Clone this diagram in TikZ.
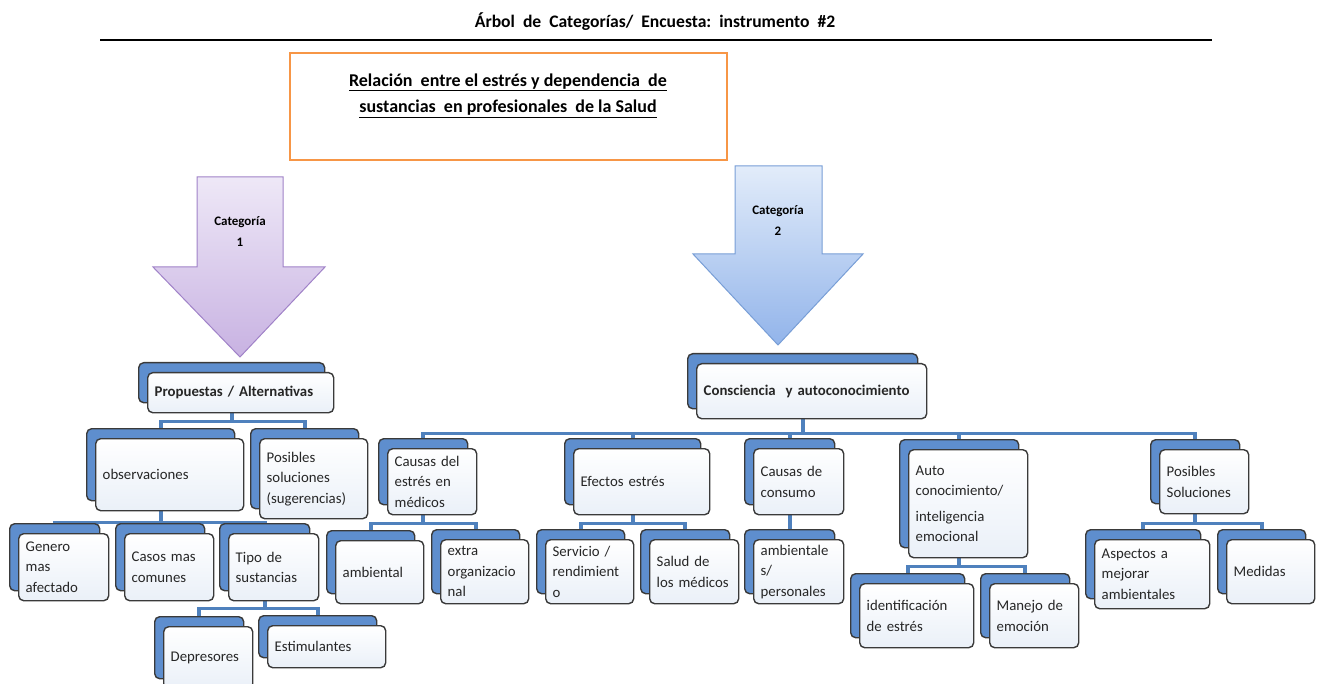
\documentclass[tikz,border=0pt]{standalone}
\usepackage{fontspec}
\setmainfont{Carlito}
\usepackage{tikz}
\usetikzlibrary{shadows, calc, backgrounds}
\hyphenpenalty=10000
\exhyphenpenalty=10000

\definecolor{cardback}{RGB}{94,142,206}
\definecolor{cardfront}{RGB}{234,240,248}
\definecolor{cardline}{RGB}{58,58,58}
\definecolor{conncol}{RGB}{79,129,189}
\definecolor{temaorange}{RGB}{247,150,70}
\definecolor{lilaline}{RGB}{160,130,200}
\definecolor{lilatop}{RGB}{238,232,247}
\definecolor{lilabot}{RGB}{200,178,226}
\definecolor{azulline}{RGB}{120,158,214}
\definecolor{azultop}{RGB}{226,236,250}
\definecolor{azulbot}{RGB}{146,180,234}

\tikzset{
  card/.style={draw=cardline, line width=1.4pt, rounded corners=5pt,
    top color=white, bottom color=cardfront,
    anchor=north west, inner xsep=7pt, inner ysep=2pt, align=left,
    font=\fontsize{14.8}{20.5}\selectfont, text=black!85,
    general shadow={shadow xshift=-9pt, shadow yshift=10pt, opacity=1,
      fill=cardback, draw=cardline, line width=1.4pt}},
  size/.style 2 args={minimum width=#1pt, minimum height=#2pt, text width=#1pt-14pt},
  conn/.style={conncol, line width=3.8pt},
  catlabel/.style={font=\fontsize{13}{21}\selectfont\bfseries, align=center}
}

\begin{document}
\begin{tikzpicture}[x=1pt, y=-1pt]
  \useasboundingbox (0,0) rectangle (1317,684);

  % Title and rule
  \node[font=\fontsize{17.6}{20}\selectfont\bfseries] (titulo) at (655,22) {Árbol\ \ de\ \ Categorías/\ \ Encuesta:\ \ instrumento\ \ \#2};
  \draw[line width=1.6pt] (100,40) -- (1212,40);

  % Theme box
  \node[draw=temaorange, line width=2pt, minimum width=437pt, minimum height=107pt] (tema) at (508.5,106.5) {};
  \node[font=\fontsize{18}{26.5}\selectfont\bfseries, align=center] (temalbl) at (508,95.5)
    {\underline{Relación\ \ entre el estrés y dependencia\ \ de}\\ \underline{sustancias\ \ en profesionales\ \ de la Salud}};

  % Category arrows
  \draw[lilaline, line width=1pt, top color=lilatop, bottom color=lilabot]
    (197,177) -- (283,177) -- (283,267) -- (325,267) -- (240,357) -- (153,267) -- (197,267) -- cycle;
  \node[catlabel] (cat1) at (240,232) {Categoría\\1};
  \draw[azulline, line width=1pt, top color=azultop, bottom color=azulbot]
    (735,166) -- (822,166) -- (822,254) -- (863,254) -- (778,345) -- (693,254) -- (735,254) -- cycle;
  \node[catlabel] (cat2) at (778,221) {Categoría\\2};

  % Category 1 tree
  \node[card, size={186}{40}, font=\fontsize{14.8}{20.5}\selectfont\bfseries] (prop) at (147,372) {Propuestas\ /\ Alternativas};
  \node[card, size={148}{72}] (obs) at (95,438) {observaciones};
  \node[card, size={108}{80}] (sol) at (259,438) {Posibles\\ soluciones\\ (sugerencias)};
  \node[card, size={90}{67}] (gen) at (18,533) {Genero\\ mas\\ afectado};
  \node[card, size={89}{67}] (cas) at (124,533) {Casos mas\\ comunes};
  \node[card, size={90}{67}] (tip) at (228,533) {Tipo de\\ sustancias};
  \node[card, size={89}{62}] (dep) at (163,626) {Depresores};
  \node[card, size={118}{42}] (est) at (267,625) {Estimulantes};

  % Category 2 tree
  \node[card, size={230}{55}, font=\fontsize{14.8}{20.5}\selectfont\bfseries] (cons) at (696,363) {Consciencia\hspace{5pt} y autoconocimiento};
  \node[card, size={89}{66}] (cau) at (387,448) {Causas del\\ estrés en\\ médicos};
  \node[card, size={136}{66}] (efe) at (573,448) {Efectos estrés};
  \node[card, size={90}{66}] (con) at (753,448) {Causas de\\ consumo};
  \node[card, size={119}{108}] (aut) at (908,449) {Auto\\ conocimiento/\\[5pt] inteligencia\\ emocional};
  \node[card, size={89}{64}] (pos) at (1159,449) {Posibles\\ Soluciones};
  \node[card, size={88}{63}] (amb) at (335,540) {ambiental};
  \node[card, size={88}{64}] (ext) at (440,539) {extra\\ organizacio\\ nal};
  \node[card, size={88}{64}] (ser) at (545,539) {Servicio /\\ rendimient\\ o};
  \node[card, size={89}{64}] (sal) at (649,539) {Salud de\\ los médicos};
  \node[card, size={90}{64}] (per) at (753,539) {ambientale\\ s/\\ personales};
  \node[card, size={114}{64}] (ide) at (859,583) {identificación\\ de estrés};
  \node[card, size={89}{64}] (man) at (989,583) {Manejo de\\ emoción};
  \node[card, size={115}{69}] (asp) at (1094,539) {Aspectos a\\ mejorar\\ ambientales};
  \node[card, size={88}{64}] (med) at (1226,539) {Medidas};

  % Connectors
  \begin{scope}[on background layer]
    \foreach \c in {obs,sol}
      \draw[conn] ($(prop.south)+(-9,0)$) -- ++(0,8) -| ($(\c.north)+(-9,-10)$);
    \foreach \c in {gen,cas,tip}
      \draw[conn] ($(obs.south)+(-9,0)$) -- ++(0,11) -| ($(\c.north)+(-9,-10)$);
    \foreach \c in {dep,est}
      \draw[conn] ($(tip.south)+(-9,0)$) -- ++(0,7) -| ($(\c.north)+(-9,-10)$);
    \foreach \c in {cau,efe,con,aut,pos}
      \draw[conn] ($(cons.south)+(-9,0)$) -- ++(0,14) -| ($(\c.north)+(-9,-10)$);
    \foreach \c in {amb,ext}
      \draw[conn] ($(cau.south)+(-9,0)$) -- ++(0,8) -| ($(\c.north)+(-9,-10)$);
    \foreach \c in {ser,sal}
      \draw[conn] ($(efe.south)+(-9,0)$) -- ++(0,8) -| ($(\c.north)+(-9,-10)$);
    \draw[conn] ($(con.south)+(-9,0)$) -- ($(per.north)+(-9,-10)$);
    \foreach \c in {ide,man}
      \draw[conn] ($(aut.south)+(-9,0)$) -- ++(0,8) -| ($(\c.north)+(-9,-10)$);
    \foreach \c in {asp,med}
      \draw[conn] ($(pos.south)+(-9,0)$) -- ++(0,9) -| ($(\c.north)+(-9,-10)$);
  \end{scope}
\end{tikzpicture}
\end{document}
